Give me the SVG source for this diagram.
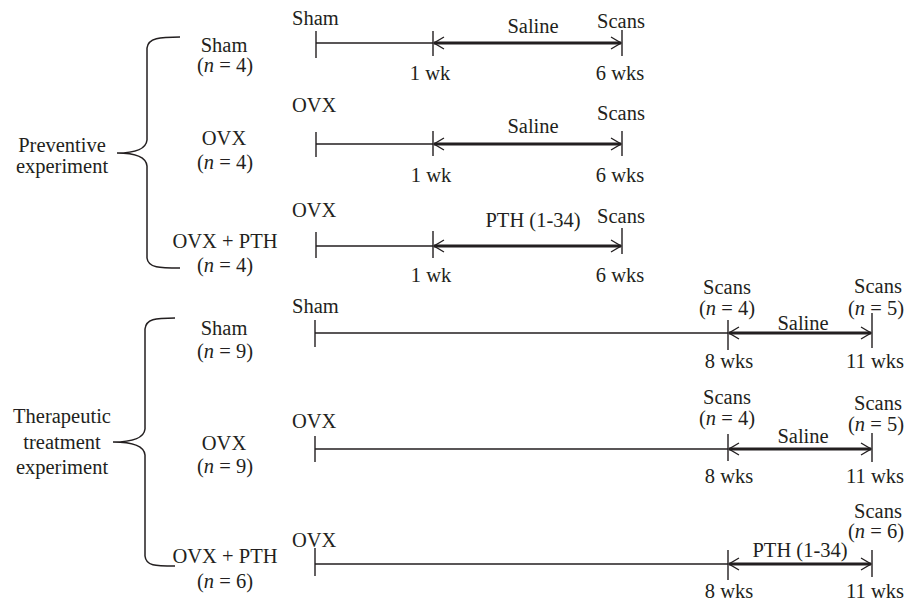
<svg xmlns="http://www.w3.org/2000/svg" width="907" height="614" viewBox="0 0 907 614" font-family="'Liberation Serif', 'DejaVu Serif', serif">
<defs>
<style>
text{font-family:'Liberation Serif','DejaVu Serif',serif;font-size:20.5px;fill:#231f20}
.m{text-anchor:middle}
.i{font-style:italic}
.thin{stroke:#231f20;stroke-width:1.3;fill:none}
.tick{stroke:#231f20;stroke-width:1.4;fill:none}
.thick{stroke:#231f20;stroke-width:3;fill:none;marker-start:url(#chev);marker-end:url(#chev)}
.brace{stroke:#231f20;stroke-width:1.5;fill:none}
</style>
<marker id="chev" viewBox="0 0 12 14" refX="11" refY="7" markerWidth="12" markerHeight="14" markerUnits="userSpaceOnUse" orient="auto-start-reverse">
<path d="M1,1 L11,7 L1,13" fill="none" stroke="#231f20" stroke-width="1.3"/>
</marker>
</defs>
<rect width="907" height="614" fill="#fff"/>

<g id="section-preventive">
<text class="m" x="62" y="152">Preventive</text>
<text class="m" x="62" y="173">experiment</text>
<path class="brace" d="M180,37 C160,37 148,38 147,48 L147,140 C146,150 132,153 117,153 C132,153 146,156 147,166 L147,258 C148,268 160,268 180,268"/>
</g>
<g id="section-therapeutic">
<text class="m" x="62" y="423">Therapeutic</text>
<text class="m" x="62" y="449">treatment</text>
<text class="m" x="62" y="474">experiment</text>
<path class="brace" d="M175,318 C155,318 146,319 145,329 L145,429 C144,439 130,442 113,442 C130,442 144,445 145,455 L145,556 C146,566 155,566 175,566"/>
</g>

<g id="group-p-sham"><text class="m" x="224" y="52">Sham</text><text class="m" x="225" y="72">(<tspan class="i">n</tspan> = 4)</text></g>
<g id="group-p-ovx"><text class="m" x="224" y="145">OVX</text><text class="m" x="225" y="169">(<tspan class="i">n</tspan> = 4)</text></g>
<g id="group-p-ovxpth"><text class="m" x="225" y="248">OVX + PTH</text><text class="m" x="225" y="272">(<tspan class="i">n</tspan> = 4)</text></g>
<g id="group-t-sham"><text class="m" x="224" y="335">Sham</text><text class="m" x="225" y="358">(<tspan class="i">n</tspan> = 9)</text></g>
<g id="group-t-ovx"><text class="m" x="224" y="450">OVX</text><text class="m" x="225" y="473">(<tspan class="i">n</tspan> = 9)</text></g>
<g id="group-t-ovxpth"><text class="m" x="225" y="563">OVX + PTH</text><text class="m" x="225" y="588">(<tspan class="i">n</tspan> = 6)</text></g>

<g id="timeline-p1">
<text x="292" y="25">Sham</text>
<text class="m" x="533" y="33">Saline</text>
<text class="m" x="621" y="28">Scans</text>
<text class="m" x="430" y="80">1 wk</text>
<text class="m" x="620" y="80">6 wks</text>
</g>
<g id="timeline-p2">
<text x="292" y="112">OVX</text>
<text class="m" x="533" y="133">Saline</text>
<text class="m" x="621" y="120">Scans</text>
<text class="m" x="431" y="182">1 wk</text>
<text class="m" x="620" y="182">6 wks</text>
</g>
<g id="timeline-p3">
<text x="292" y="217">OVX</text>
<text class="m" x="533" y="227">PTH (1-34)</text>
<text class="m" x="621" y="223">Scans</text>
<text class="m" x="431" y="282">1 wk</text>
<text class="m" x="620" y="282">6 wks</text>
</g>
<g id="timeline-t1">
<text x="292" y="313">Sham</text>
<text class="m" x="727" y="294">Scans</text>
<text class="m" x="727" y="315">(<tspan class="i">n</tspan> = 4)</text>
<text class="m" x="803" y="330">Saline</text>
<text class="m" x="878" y="293">Scans</text>
<text class="m" x="876" y="315">(<tspan class="i">n</tspan> = 5)</text>
<text class="m" x="729" y="368">8 wks</text>
<text class="m" x="875" y="368">11 wks</text>
</g>
<g id="timeline-t2">
<text x="292" y="428">OVX</text>
<text class="m" x="727" y="404">Scans</text>
<text class="m" x="727" y="425">(<tspan class="i">n</tspan> = 4)</text>
<text class="m" x="803" y="443">Saline</text>
<text class="m" x="878" y="410">Scans</text>
<text class="m" x="876" y="431">(<tspan class="i">n</tspan> = 5)</text>
<text class="m" x="729" y="483">8 wks</text>
<text class="m" x="875" y="483">11 wks</text>
</g>
<g id="timeline-t3">
<text x="292" y="547">OVX</text>
<text class="m" x="800" y="557">PTH (1-34)</text>
<text class="m" x="878" y="518">Scans</text>
<text class="m" x="876" y="538">(<tspan class="i">n</tspan> = 6)</text>
<text class="m" x="729" y="598">8 wks</text>
<text class="m" x="875" y="598">11 wks</text>
</g>

<g id="connectors">
<path class="thin" d="M316,43 H433 M316,144 H433 M316,246 H433 M315,333 H728 M315,449 H728 M315,564 H728"/>
<path class="tick" d="M316,31 V58 M433,31 V56 M622,30 V56 M316,132 V157 M433,131 V156 M622,131 V156 M316,232 V258 M433,231 V258 M622,228 V254 M315,320 V347 M728,320 V350 M872,313 V348 M315,436 V462 M728,434 V461 M872,433 V462 M315,548 V576 M728,550 V580 M872,550 V577"/>
<path class="thick" d="M434,43 H621"/>
<path class="thick" d="M434,144 H621"/>
<path class="thick" d="M434,246 H621"/>
<path class="thick" d="M729,333 H871"/>
<path class="thick" d="M729,449 H871"/>
<path class="thick" d="M729,564 H871"/>
</g>
</svg>
